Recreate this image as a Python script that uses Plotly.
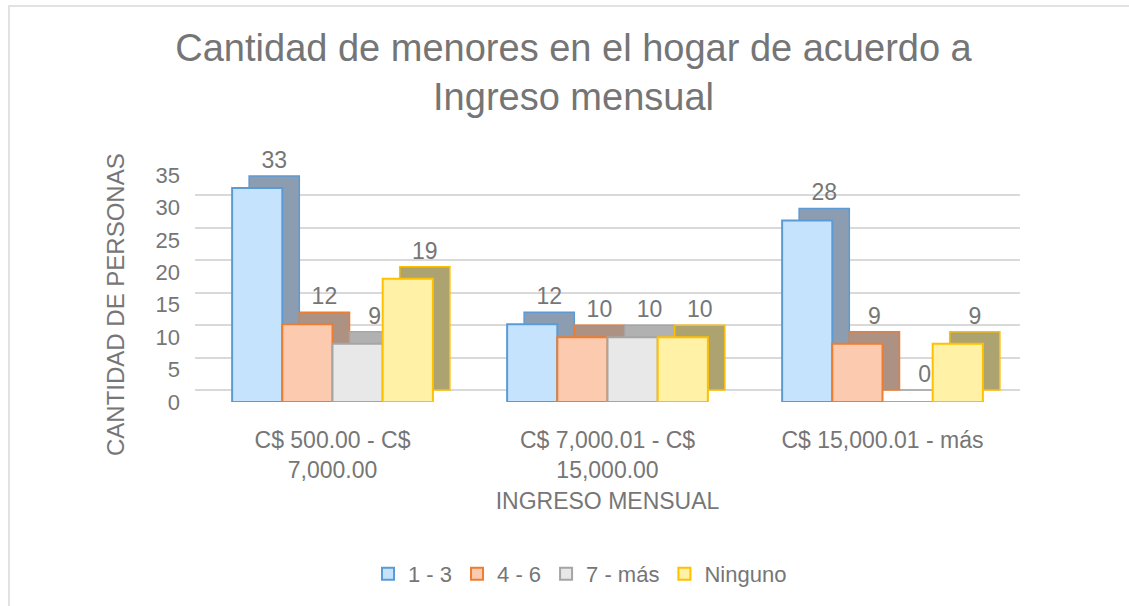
import plotly.graph_objects as go

categories = ["C$ 500.00 - C$<br>7,000.00", "C$ 7,000.01 - C$<br>15,000.00", "C$ 15,000.01 - más"]
series_names = ["1 - 3", "4 - 6", "7 - más", "Ninguno"]
v_1_3 = [33, 12, 28]
v_4_6 = [12, 10, 9]
v_7_mas = [9, 10, 0]
v_ninguno = [19, 10, 9]
y_ticks = [0, 5, 10, 15, 20, 25, 30, 35]

values = [v_1_3, v_4_6, v_7_mas, v_ninguno]
front_colors = ["#c6e3fd", "#fccaaf", "#e8e8e8", "#fff1a6"]
line_colors = ["#5b9bd5", "#ed7d31", "#a5a5a5", "#ffc000"]
back_colors = ["#8c9db1", "#ad9284", "#b1b1b1", "#aca370"]

W, H = 1129, 606
ml, mr, mt, mb = 195, 109, 175, 204
plot_w = W - ml - mr
plot_h = H - mt - mb
dx = 17 / plot_w * 3.0        # depth shift, x units
dy = 12 / plot_h * 35.0       # depth shift, y units

txt = "#767676"
font = "Liberation Sans, Arial, sans-serif"

fig = go.Figure()
idx = [0, 1, 2]
# depth blocks (behind), on main axes
for name, vals, bc, lc in zip(series_names, values, back_colors, line_colors):
    fig.add_trace(go.Bar(
        x=idx, y=vals, name=name, xaxis="x", yaxis="y",
        marker=dict(color=bc, line=dict(color=lc, width=1.5)),
        text=[str(v) for v in vals], textposition="outside",
        textfont=dict(size=23, color=txt, family=font),
        cliponaxis=False, showlegend=False, hoverinfo="skip",
    ))
# front faces, on overlay axes
for name, vals, fc, lc in zip(series_names, values, front_colors, line_colors):
    fig.add_trace(go.Bar(
        x=idx, y=vals, name=name, xaxis="x2", yaxis="y2",
        marker=dict(color=fc, line=dict(color=lc, width=2)),
        cliponaxis=False,
    ))

fig.update_layout(
    width=W, height=H,
    margin=dict(l=ml, r=mr, t=mt, b=mb, autoexpand=False),
    paper_bgcolor="white", plot_bgcolor="white",
    barmode="group", bargap=0.27, bargroupgap=0,
    font=dict(family=font, color=txt, size=23),
    title=dict(
        text="Cantidad de menores en el hogar de acuerdo a<br>Ingreso mensual",
        x=0.508, xanchor="center", y=1 - 61 / H, yanchor="middle",
        font=dict(size=38, color="#757575", family=font),
    ),
    xaxis=dict(
        range=[-0.5 - dx, 2.5 - dx], showgrid=False, zeroline=False, showline=False,
        showticklabels=False, ticks="",
    ),
    yaxis=dict(
        range=[-dy, 35 - dy], tickvals=y_ticks, showgrid=True, gridcolor="#d9d9d9", gridwidth=1.5,
        zeroline=False, showline=False, showticklabels=False, ticks="",
    ),
    xaxis2=dict(
        range=[-0.5, 2.5], overlaying="x", side="bottom",
        tickmode="array", tickvals=idx, ticktext=categories,
        showgrid=False, zeroline=False, showline=False, ticks="",
        tickfont=dict(size=23, color=txt), ticklabelstandoff=22,
        title=dict(text="INGRESO MENSUAL", font=dict(size=23, color=txt), standoff=10),
    ),
    yaxis2=dict(
        range=[0, 35], overlaying="y", side="left", tickvals=y_ticks,
        showgrid=False, zeroline=False, showline=False, ticks="",
        tickfont=dict(size=22, color=txt), ticklabelstandoff=14,
    ),
    annotations=[dict(
        text="CANTIDAD DE PERSONAS", textangle=-90, showarrow=False,
        xref="paper", yref="paper",
        x=(115 - ml) / plot_w, y=(H - mb - 305) / plot_h,
        xanchor="center", yanchor="middle",
        font=dict(size=24, color=txt, family=font),
    )],
    legend=dict(
        orientation="h", x=(580 - ml) / plot_w, xanchor="center",
        y=(H - mb - 574) / plot_h, yanchor="middle",
        font=dict(size=22, color=txt), traceorder="normal",
        itemwidth=30, tracegroupgap=0,
    ),
    shapes=[dict(
        type="rect", xref="paper", yref="paper",
        x0=(9 - ml) / plot_w, x1=(W + 20 - ml) / plot_w,
        y0=(H - 640 - mb) / plot_h, y1=(H - 6 - mb) / plot_h,
        line=dict(color="#d9d9d9", width=1.5), fillcolor="rgba(0,0,0,0)", layer="below",
    )],
)

fig.write_html(
    "out.html",
    config={"displayModeBar": False},
    post_script="document.body.style.margin='0';document.body.style.overflow='hidden';",
)
